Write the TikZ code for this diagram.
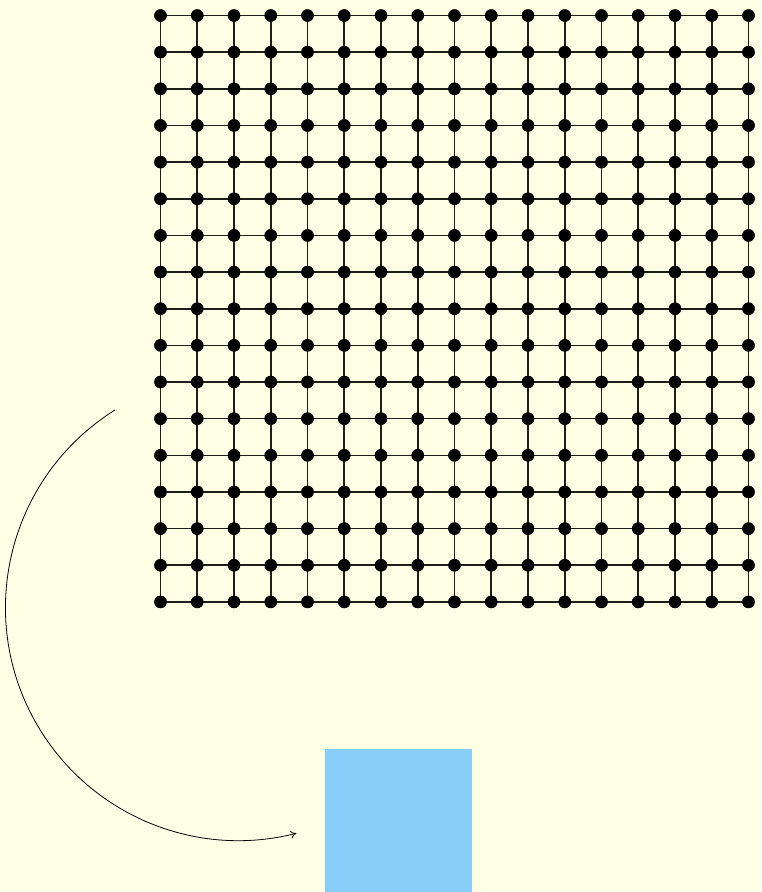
\documentclass[tikz,border=0pt]{standalone}
\usetikzlibrary{arrows.meta}
\definecolor{LatPaper}{RGB}{255,255,230}
\definecolor{LatBlue}{RGB}{135,206,250}
\definecolor{LatInk}{RGB}{30,30,25}
\tikzset{
  lat/dot/.style={circle, fill=black, inner sep=0pt, minimum size=12.5pt},
  lat/edge/.style={draw=LatInk, line width=1.6pt},
  lat/block/.style={fill=LatBlue, draw=none},
  lat/arrow/.style={-{To[length=6pt,width=8pt]}, line width=0.8pt, draw=black}
}
\begin{document}
\begin{tikzpicture}[x=1pt,y=1pt]
  \fill[LatPaper] (0,0) rectangle (761,-892);
  \useasboundingbox (0,0) rectangle (761,-892);
  % lattice of dots
  \foreach \i in {0,...,16}{
    \foreach \j in {0,...,16}{
      \node[lat/dot] (d-\i-\j) at ({160.5+36.75*\i},{-15.5-36.65*\j}) {};
    }
  }
  \foreach \i in {0,...,16}{
    \draw[lat/edge] (d-\i-0.center) -- (d-\i-16.center);
    \draw[lat/edge] (d-0-\i.center) -- (d-16-\i.center);
  }
  \foreach \i in {0,...,16}{
    \foreach \j in {0,...,16}{
      \fill (d-\i-\j) circle (6.2pt);
    }
  }
  % target block
  \node[lat/block, minimum width=147pt, minimum height=143pt, inner sep=0pt, anchor=north west] (blk) at (325,-749) {};
  % curved arrow
  \coordinate (src) at (115,-410);
  \draw[lat/arrow] (src) arc[start angle=122, end angle=284.4, radius=233];
\end{tikzpicture}
\end{document}
